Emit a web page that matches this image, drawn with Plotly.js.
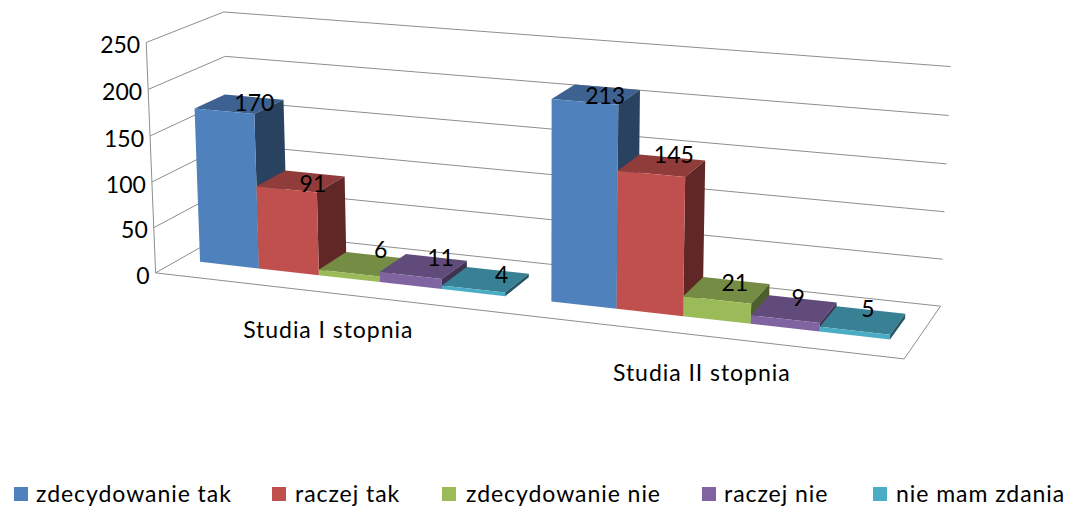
<!DOCTYPE html>
<html><head><meta charset="utf-8">
<script src="https://cdn.plot.ly/plotly-3.0.1.min.js"></script>
<style>html,body{margin:0;padding:0;background:#fff}#c{width:1071px;height:508px}
text{letter-spacing:0.95px}</style></head>
<body><div id="c"></div>
<script>
const categories = ["Studia I stopnia", "Studia II stopnia"];
const seriesNames = ["zdecydowanie tak", "raczej tak", "zdecydowanie nie", "raczej nie", "nie mam zdania"];
const zdecydowanieTak = [170, 213];
const raczejTak = [91, 145];
const zdecydowanieNie = [6, 21];
const raczejNie = [11, 9];
const nieMamZdania = [4, 5];
const valueTicks = [0, 50, 100, 150, 200, 250];
const frontColors = ["#4F81BD", "#C0504D", "#9BBB59", "#8064A2", "#4BACC6"];
const topColors = ["#3D6292", "#8F3C3A", "#748C43", "#604B7A", "#388195"];
const sideColors = ["#29425F", "#602726", "#4E5E2D", "#403251", "#265663"];
const seriesValues = [zdecydowanieTak, raczejTak, zdecydowanieNie, raczejNie, nieMamZdania];

// calibration of the box: [u, depth, height] -> page pixel
const calib = [
 [0,0,0,156,273],[0,0,1,146,42],[0,1,0,230.5,230],[0,1,1,224,12.3],
 [1,1,0,940.7,305.7],[1,1,1,950.7,66.7],[1,0,0,904,359.3]];
function solve(){
  const A=[],b=[];
  calib.forEach(([u,v,h,px,py])=>{
    const x=px/1000,y=py/1000;
    A.push([u,v,h,1,0,0,0,0,-x*u,-x*v,-x*h]);b.push(x);
    A.push([0,0,0,0,u,v,h,1,-y*u,-y*v,-y*h]);b.push(y);
  });
  const n=11,M=[];
  for(let i=0;i<n;i++){const r=[];for(let j=0;j<n;j++){let s=0;A.forEach(a=>s+=a[i]*a[j]);r.push(s);}
    let s=0;A.forEach((a,k)=>s+=a[i]*b[k]);r.push(s);M.push(r);}
  for(let i=0;i<n;i++){let p=i;for(let k=i+1;k<n;k++)if(Math.abs(M[k][i])>Math.abs(M[p][i]))p=k;
    [M[i],M[p]]=[M[p],M[i]];
    for(let k=0;k<n;k++)if(k!==i){const f=M[k][i]/M[i][i];for(let j=i;j<=n;j++)M[k][j]-=f*M[i][j];}}
  return M.map((r,i)=>r[n]/r[i]);
}
const P=solve();
function proj(u,v,h){const w=P[8]*u+P[9]*v+P[10]*h+1;
  return [1000*(P[0]*u+P[1]*v+P[2]*h+P[3])/w,1000*(P[4]*u+P[5]*v+P[6]*h+P[7])/w];}

const maxV=250, depthFront=0.3, depthBack=0.7, gapFrac=0.36;
const traces=[];
function poly(pts,color){
  const q=pts.map(p=>proj(p[0],p[1],p[2]));
  traces.push({type:'scatter',mode:'lines',x:q.map(a=>a[0]).concat(q[0][0]),y:q.map(a=>a[1]).concat(q[0][1]),
    fill:'toself',fillcolor:color,line:{width:0,color:color},hoverinfo:'skip',showlegend:false});
}
function line(pts){
  const q=pts.map(p=>proj(p[0],p[1],p[2]));
  traces.push({type:'scatter',mode:'lines',x:q.map(a=>a[0]),y:q.map(a=>a[1]),
    line:{width:1,color:'#8E8E8E'},hoverinfo:'skip',showlegend:false});
}
// walls
valueTicks.forEach(t=>{const h=t/maxV;line([[0,0,h],[0,1,h],[1,1,h]]);});
line([[0,0,0],[0,0,1]]);
line([[0,0,0],[1,0,0],[1,1,0]]);

// bars
const catW=1/categories.length, unit=catW/(seriesValues.length+2*gapFrac);
const labelX=[],labelY=[],labelT=[];
const labelDx=[[15,12,18,17,16],[9,12,8,4,5]], labelDy=[[1,5,-12,-6,-2],[4,-8,-5,-9,-9]];
categories.forEach((c,ci)=>{
  seriesValues.forEach((vals,si)=>{
    const u0=ci*catW+gapFrac*unit+si*unit,u1=u0+unit,h=vals[ci]/maxV,a=depthFront,b=depthBack;
    poly([[u0,a,h],[u1,a,h],[u1,b,h],[u0,b,h]],topColors[si]);
    poly([[u1,a,0],[u1,b,0],[u1,b,h],[u1,a,h]],sideColors[si]);
    poly([[u0,a,0],[u1,a,0],[u1,a,h],[u0,a,h]],frontColors[si]);
    const p=proj((u0+u1)/2,(a+b)/2,h);
    labelX.push(p[0]+labelDx[ci][si]);labelY.push(p[1]+labelDy[ci][si]);labelT.push(String(vals[ci]));
  });
});
const font={family:'Lato, sans-serif',size:23,color:'#000'};
traces.push({type:'scatter',mode:'text',x:labelX,y:labelY,text:labelT,textposition:'middle center',textfont:font,hoverinfo:'skip',showlegend:false});
// value axis labels
const tk=valueTicks.map(t=>proj(0,0,t/maxV));
traces.push({type:'scatter',mode:'text',x:tk.map(p=>p[0]-6),y:tk.map(p=>p[1]+5),text:valueTicks.map(String),textposition:'middle left',textfont:font,hoverinfo:'skip',showlegend:false});
// category labels
const cp=categories.map((c,i)=>proj((i+0.5)*catW,0,0));
traces.push({type:'scatter',mode:'text',x:cp.map(p=>p[0]),y:cp.map(p=>p[1]+40),text:categories,textposition:'middle center',textfont:font,hoverinfo:'skip',showlegend:false});
// legend
const legendSwatchX=[21,279,449,709,880], legendTextX=[36,295,466,724,896], legendY=494;
seriesNames.forEach((n,i)=>{
  traces.push({type:'scatter',mode:'markers',name:n,x:[legendSwatchX[i]],y:[legendY],marker:{symbol:'square',size:14,color:frontColors[i],line:{width:0}},hoverinfo:'skip',showlegend:false});
  traces.push({type:'scatter',mode:'text',x:[legendTextX[i]],y:[legendY+2],text:[n],textposition:'middle right',textfont:font,hoverinfo:'skip',showlegend:false});
});
Plotly.newPlot('c',traces,{
  width:1071,height:508,margin:{l:0,r:0,t:0,b:0},paper_bgcolor:'#fff',plot_bgcolor:'#fff',showlegend:false,
  xaxis:{range:[0,1071],visible:false,fixedrange:true},
  yaxis:{range:[508,0],visible:false,fixedrange:true}
},{displayModeBar:false,staticPlot:true}).then(()=>{
  document.querySelectorAll('svg text').forEach(t=>{if(/^\d+$/.test(t.textContent))t.style.letterSpacing='0';});
});
</script></body></html>
